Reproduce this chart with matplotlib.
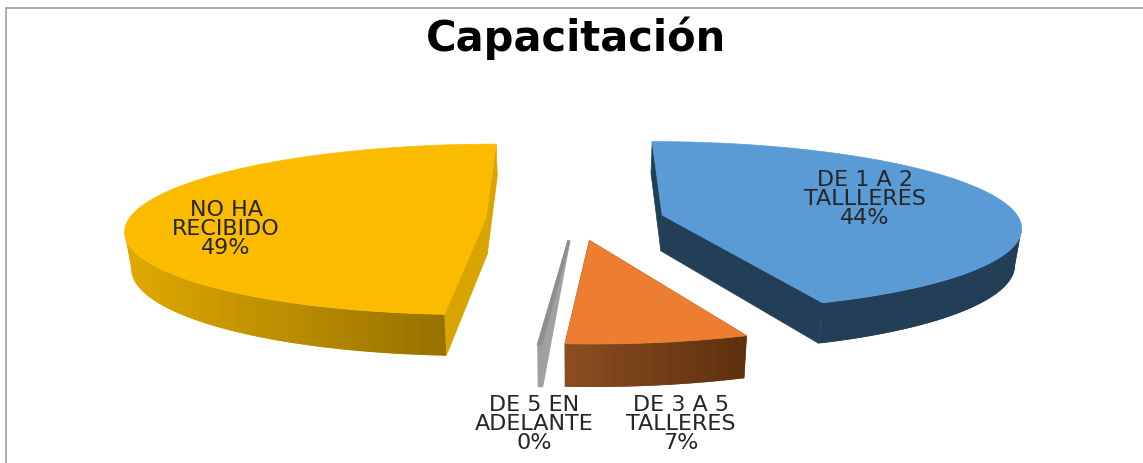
import numpy as np
import matplotlib
matplotlib.use("Agg")
import matplotlib.pyplot as plt
from matplotlib.colors import LinearSegmentedColormap
from matplotlib.patches import Polygon

# Data
categories = ["DE 1 A 2\nTALLLERES", "DE 3 A 5\nTALLERES", "DE 5 EN\nADELANTE", "NO HA\nRECIBIDO"]
values = [44, 7, 0.1, 48.9]  # percent, clockwise from the top

# Styles, same order as the slices
top_colors = ["#5b9bd5", "#ed7d31", "#8f8f8f", "#fbbc00"]
side_left = ["#233f57", "#8b4e22", "#a0a0a0", "#e0aa00"]
side_right = ["#233f57", "#5e300f", "#a0a0a0", "#977100"]
radial_colors = ["#233f57", "#8b4e22", "#a0a0a0", "#d8a500"]
apex_depth = [1, 1, 0, 1]  # the grey sliver closes to a point at its tip
edge_lw = [0.5, 0.5, 2, 0.5]
label_pos = [(865, 199), (681, 424), (534, 424), (226, 229)]

# Fake 3D camera, in pixels
CX, CY = 575, 220
RX, RY = 357, 84
PERSP = 0.13
EXPLODE = 0.25
DEPTH = 36


def project(u, v, h=0.0):
    s = 1 / (1 + PERSP * v)
    shrink = 1 - 0.015 * h
    return CX + RX * u * s * shrink, CY - RY * v * s + DEPTH * s * h


fig, ax = plt.subplots(figsize=(11.43, 4.64), dpi=100)
ax.set_position([0, 0, 1, 1])
ax.axis("off")

# chart frame (only top and left show)
ax.plot([5.5, 5.5], [464, 8.5], color="#a6a6a6", lw=1.3)
ax.plot([5.5, 1143], [8.5, 8.5], color="#a6a6a6", lw=1.3)

start = 0.0
for i, val in enumerate(values):
    sweep = val / sum(values) * 2 * np.pi
    theta = np.linspace(start, start + sweep, 200)
    mid = start + sweep / 2
    start += sweep

    u0, v0 = EXPLODE * np.sin(mid), EXPLODE * np.cos(mid)
    x_top, y_top = project(u0, v0)
    x_low, y_low = project(u0, v0, apex_depth[i])
    xt, yt = project(u0 + np.sin(theta), v0 + np.cos(theta), 0)
    xb, yb = project(u0 + np.sin(theta), v0 + np.cos(theta), 1)

    # radial walls
    for k in (0, -1):
        ax.add_patch(Polygon([(x_top, y_top), (xt[k], yt[k]), (xb[k], yb[k]), (x_low, y_low)],
                             fc=radial_colors[i], ec=radial_colors[i], lw=edge_lw[i], zorder=2))

    # outer wall, only from the widest point round the front, shaded left to right
    widest = np.argmax(np.abs(xt - CX))
    front = np.cos(theta) <= np.cos(theta[widest]) + 1e-9
    fx, fy = xt[front], yt[front]
    gx, gy = xb[front], yb[front]
    wall = Polygon(list(zip(fx, fy)) + list(zip(gx[::-1], gy[::-1])), fc=side_left[i], ec="none",
                   zorder=2.5)
    ax.add_patch(wall)
    cmap = LinearSegmentedColormap.from_list("wall", [side_left[i], side_right[i]])
    img = ax.imshow(np.linspace(0, 1, 256).reshape(1, -1), cmap=cmap, aspect="auto",
                    extent=(fx.min() - 1, fx.max() + 1, gy.max() + 1, fy.min() - 1), zorder=3)
    img.set_clip_path(wall)

    # top face
    pts = [(x_top, y_top)] + list(zip(xt, yt))
    ax.add_patch(Polygon(pts, fc=top_colors[i], ec=top_colors[i], lw=edge_lw[i], zorder=4))

    ax.text(label_pos[i][0], label_pos[i][1], f"{categories[i]}\n{val:.0f}%", ha="center", va="center",
            fontsize=16, color="#262626", linespacing=0.95, zorder=5)

ax.text(576, 38, "Capacitación", ha="center", va="center", fontsize=30, fontweight="bold", color="black")

ax.set_xlim(0, 1143)
ax.set_ylim(464, 0)

fig.savefig("out.png", dpi=100)
